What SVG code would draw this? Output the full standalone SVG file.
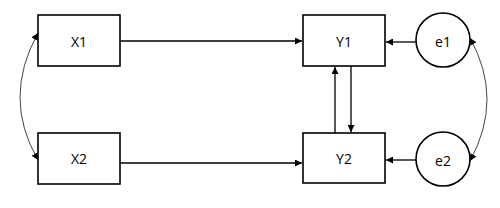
<svg xmlns="http://www.w3.org/2000/svg" width="500" height="208" viewBox="0 0 500 208">
<style>
.box{fill:#fff;stroke:#000;stroke-width:1.6}
.lbl{font-family:"Open Sans","Liberation Sans",sans-serif;font-size:14px;fill:#000;text-anchor:middle;dominant-baseline:central}
.ln{fill:none;stroke:#000;stroke-width:1.3}
.cv{fill:none;stroke:#444;stroke-width:1}
</style>
<defs>
<marker id="ah" viewBox="0 0 10 10" refX="10" refY="5" markerWidth="7" markerHeight="7" markerUnits="userSpaceOnUse" orient="auto-start-reverse">
<path d="M0,0 L10,5 L0,10 z" fill="#000"/>
</marker>
</defs>
<g id="connectors">
<line class="ln" x1="120" y1="41" x2="302" y2="41" marker-end="url(#ah)"/>
<line class="ln" x1="120" y1="163" x2="302" y2="163" marker-end="url(#ah)"/>
<line class="ln" x1="416" y1="42" x2="386" y2="42" marker-end="url(#ah)"/>
<line class="ln" x1="416" y1="160" x2="386" y2="160" marker-end="url(#ah)"/>
<line class="ln" x1="335" y1="133" x2="335" y2="67" marker-end="url(#ah)"/>
<line class="ln" x1="351" y1="66" x2="351" y2="132" marker-end="url(#ah)"/>
<path class="cv" d="M38,33 Q2,98 38,160" marker-start="url(#ah)" marker-end="url(#ah)"/>
<path class="cv" d="M470,38 Q504,99 470,161" marker-start="url(#ah)" marker-end="url(#ah)"/>
</g>
<g id="X1"><rect class="box" x="38" y="15" width="82" height="51"/><text class="lbl" x="79" y="41">X1</text></g>
<g id="X2"><rect class="box" x="38" y="133" width="82" height="51"/><text class="lbl" x="79" y="158">X2</text></g>
<g id="Y1"><rect class="box" x="303" y="15" width="82" height="51"/><text class="lbl" x="344" y="41">Y1</text></g>
<g id="Y2"><rect class="box" x="303" y="133" width="82" height="50"/><text class="lbl" x="344" y="158">Y2</text></g>
<g id="e1"><circle class="box" cx="443" cy="40" r="27"/><text class="lbl" x="443" y="41">e1</text></g>
<g id="e2"><circle class="box" cx="443" cy="159" r="27"/><text class="lbl" x="443" y="160">e2</text></g>
</svg>
